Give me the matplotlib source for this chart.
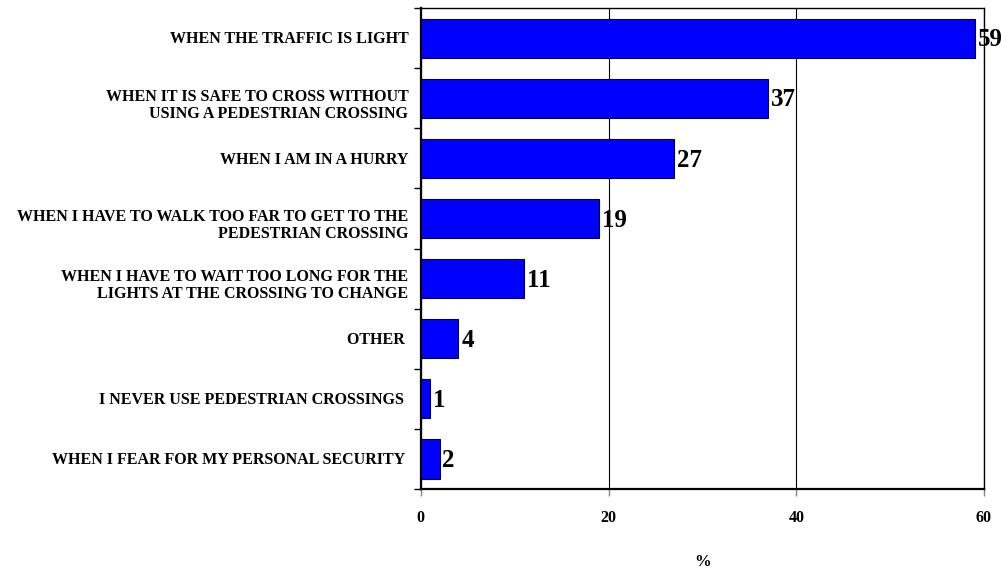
import matplotlib
matplotlib.use("Agg")
import matplotlib.pyplot as plt
from matplotlib.ticker import FixedLocator

categories = [
    "WHEN THE TRAFFIC IS LIGHT",
    "WHEN IT IS SAFE TO CROSS WITHOUT\nUSING A PEDESTRIAN CROSSING",
    "WHEN I AM IN A HURRY",
    "WHEN I HAVE TO WALK TOO FAR TO GET TO THE\nPEDESTRIAN CROSSING",
    "WHEN I HAVE TO WAIT TOO LONG FOR THE\nLIGHTS AT THE CROSSING TO CHANGE",
    "OTHER ",
    "I NEVER USE PEDESTRIAN CROSSINGS ",
    "WHEN I FEAR FOR MY PERSONAL SECURITY ",
]
values = [59, 37, 27, 19, 11, 4, 1, 2]
x_ticks = [0, 20, 40, 60]

plt.rcParams["font.family"] = ["Liberation Serif", "DejaVu Serif"]
plt.rcParams["font.weight"] = "bold"

fig = plt.figure(figsize=(10.02, 5.70), dpi=100)
ax = fig.add_axes([0.420, 0.142, 0.562, 0.844])

pos = list(range(len(categories)))
ax.barh(pos, values, height=0.65, color="#0000FF", edgecolor="#000033", linewidth=0.8, zorder=3)

for p, v in zip(pos, values):
    ax.text(v + 0.3, p + 0.03, f"{v}", va="center", ha="left", fontsize=18,
            fontweight="bold", zorder=4)

ax.set_xlim(0, 60)
ax.set_ylim(len(categories) - 0.5, -0.5)

# category labels, right-aligned to the left of the axis; two-line labels sit a bit lower
ax.set_yticks(pos)
ax.set_yticklabels([])
ax.tick_params(axis="y", which="major", length=0)
for p, name in zip(pos, categories):
    dy = -5 if "\n" in name else -1
    ax.annotate(name, xy=(0, p), xycoords=ax.get_yaxis_transform(),
                xytext=(-9, dy), textcoords="offset points",
                ha="right", va="center", fontsize=11.5, fontweight="bold",
                linespacing=1.1, annotation_clip=False)

ax.yaxis.set_minor_locator(FixedLocator([k + 0.5 for k in range(-1, len(categories))]))
ax.tick_params(axis="y", which="minor", length=5, width=1.0, direction="out", color="black")

ax.set_xticks(x_ticks)
ax.set_xticklabels([str(t) for t in x_ticks], fontsize=11.5, fontweight="bold")
ax.tick_params(axis="x", length=5, width=1.0, color="#888888", pad=10)

ax.xaxis.grid(True, color="black", linewidth=0.8, zorder=0)
ax.set_axisbelow(True)

for side in ["left", "bottom"]:
    ax.spines[side].set_linewidth(1.6)
for side in ["top", "right"]:
    ax.spines[side].set_linewidth(1.0)

ax.set_xlabel("%", fontsize=12, fontweight="bold", labelpad=20)

fig.savefig("out.png", dpi=100)
